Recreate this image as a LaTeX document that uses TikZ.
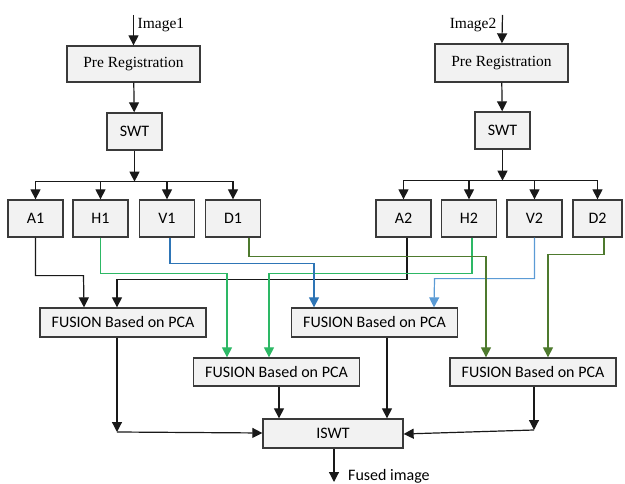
\documentclass[tikz,border=0pt]{standalone}
\usepackage{fontspec}
\setmainfont{Carlito}
\newfontfamily\serifface{Liberation Serif}
\usetikzlibrary{positioning, arrows.meta, calc}

\definecolor{boxfill}{HTML}{F2F2F2}
\definecolor{boxline}{HTML}{3A3A3A}
\definecolor{hgreen}{HTML}{2DB865}
\definecolor{vblue}{HTML}{2E75B6}
\definecolor{vlight}{HTML}{5B9BD5}
\definecolor{dolive}{HTML}{4E7A2E}

\begin{document}
\begin{tikzpicture}[
    x=1pt, y=-1pt,
    every node/.style={font=\fontsize{16}{18}\selectfont, inner sep=0pt},
    block/.style={fill=boxfill, draw=boxline, line width=1.3pt, minimum width=55pt, minimum height=37pt},
    preblock/.style={block, minimum width=133pt, font=\serifface\fontsize{15.5}{18}\selectfont},
    fusion/.style={block, minimum width=166pt, minimum height=29pt},
    arrow/.style={-{Triangle[length=10pt, width=10pt]}, line width=1.2pt, draw=black!90},
    harrow/.style={arrow, draw=hgreen},
    varrow/.style={arrow, draw=vblue},
    darrow/.style={arrow, draw=dolive},
    label/.style={font=\fontsize{16}{18}\selectfont},
    serlabel/.style={font=\serifface\fontsize{15.5}{18}\selectfont}
]
\useasboundingbox (0,0) rectangle (625,484);

% Image 1 branch
\node[preblock, minimum height=36pt] (pre1) at (133.5,64) {Pre Registration};
\node[block] (swt1) at (134.5,131.5) {SWT};
\coordinate (in1) at (133.5,15);
\coordinate (bus1) at ($(swt1.south)+(0,31)$);
\node[block] (A1) at (35.5,218.5) {A1};
\node[block] (H1) at (100.5,218.5) {H1};
\node[block] (V1) at (167,218.5) {V1};
\node[block] (D1) at (233,218.5) {D1};

% Image 2 branch
\node[preblock, minimum height=38pt] (pre2) at (501.5,63) {Pre Registration};
\node[block] (swt2) at (502.5,130.5) {SWT};
\coordinate (in2) at (502.5,15);
\coordinate (bus2) at ($(swt2.south)+(0,31)$);
\node[block] (A2) at (403.5,218.5) {A2};
\node[block] (H2) at (469,218.5) {H2};
\node[block] (V2) at (534.5,218.5) {V2};
\node[block, minimum width=49pt] (D2) at (597.5,218.5) {D2};

% Fusion and reconstruction
\node[fusion] (fus1) at (123,322.5) {FUSION Based on PCA};
\node[fusion, minimum height=28pt] (fus2) at (276.5,372) {FUSION Based on PCA};
\node[fusion] (fus3) at (374.5,322.5) {FUSION Based on PCA};
\node[fusion, minimum height=28pt] (fus4) at (533,372) {FUSION Based on PCA};
\node[block, minimum width=140pt, minimum height=29pt] (iswt) at (333,433.5) {ISWT};
\coordinate (out) at (334,482);
\coordinate (c1) at (117,432);
\coordinate (c4) at (534,430);

% Inputs
\draw[arrow] (in1) -- (pre1);
\node[serlabel, anchor=north west] (img1) at ([xshift=4pt,yshift=-3pt]in1) {Image1};
\draw[arrow] (in2) -- (pre2);
\node[serlabel, anchor=north east] (img2) at ([xshift=-6pt,yshift=-3pt]in2) {Image2};

% Decomposition
\draw[arrow] (pre1) -- (swt1);
\draw[arrow] (swt1) -- (bus1);
\foreach \n in {A1, H1, V1, D1}
    \draw[arrow] (bus1) -| (\n);
\draw[arrow] (pre2) -- (swt2);
\draw[arrow] (swt2) -- (bus2);
\foreach \n in {A2, H2, V2, D2}
    \draw[arrow] (bus2) -| (\n);

% Approximation bands
\draw[arrow] (A1.south) |- ++(48,38) -- ([xshift=-39pt]fus1.north);
\draw[arrow] ([xshift=3.5pt]A2.south) |- ++(-290,42) -- ([xshift=-6pt]fus1.north);

% Horizontal bands
\draw[harrow] (H1.south) |- ++(126.5,36) -- ([xshift=-49.5pt]fus2.north);
\draw[harrow] ([xshift=3pt]H2.south) |- ++(-203,36) -- ([xshift=-7.5pt]fus2.north);

% Vertical bands
\draw[varrow] ([xshift=3pt]V1.south) |- ++(144,26) -- ([xshift=-60.5pt]fus3.north);
\draw[varrow, draw=vlight] (V2.south) |- ++(-100,41) -- ([xshift=59.5pt]fus3.north);

% Diagonal bands
\draw[darrow] ([xshift=16pt]D1.south) |- ++(237,19) -- ([xshift=-47pt]fus4.north);
\draw[darrow] ([xshift=6.5pt]D2.south) |- ++(-56,17) -- ([xshift=15pt]fus4.north);

% Inverse transform
\draw[arrow] ([xshift=-6pt]fus1.south) -- (c1);
\draw[arrow] (c1) -- ([yshift=0.5pt]iswt.west);
\draw[arrow] ([xshift=2.5pt]fus2.south) -- ([xshift=-54pt]iswt.north);
\draw[arrow] ([xshift=12.5pt]fus3.south) -- ([xshift=54pt]iswt.north);
\draw[arrow] ([xshift=1pt]fus4.south) -- (c4);
\draw[arrow] (c4) -- ([yshift=-0.5pt]iswt.east);
\draw[arrow] ([xshift=1pt]iswt.south) -- (out);
\node[label, anchor=south west] (fused) at ([xshift=14pt,yshift=-1pt]out) {Fused image};

\end{tikzpicture}
\end{document}
